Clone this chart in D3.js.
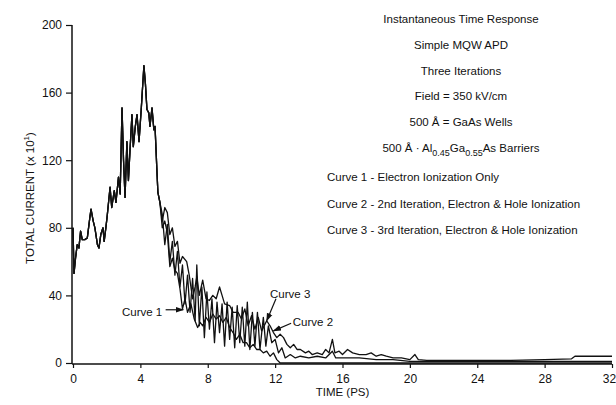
<!DOCTYPE html>
<html>
<head>
<meta charset="utf-8">
<script src="https://cdn.jsdelivr.net/npm/d3@7"></script>
<style>
  body { margin: 0; background: #fff; }
  svg text { font-family: "Liberation Sans", Arial, sans-serif; fill: #111; }
</style>
</head>
<body>
<div id="chart"></div>
<script>
// shared rise of all three curves (time in ps, current x10)
const sharedT = [0, 0.06, 0.15, 0.25, 0.35, 0.45, 0.55, 0.7, 0.85, 1.0, 1.07, 1.2, 1.3, 1.45, 1.54, 1.65, 1.78, 1.85, 1.95, 2.02,
  2.2, 2.3, 2.45, 2.55, 2.7, 2.8, 2.91, 3.0, 3.09, 3.2, 3.29, 3.38, 3.5, 3.58, 3.7, 3.8, 3.92, 4.05, 4.21, 4.3,
  4.39, 4.5, 4.57, 4.69, 4.8, 4.87, 4.99, 5.04, 5.16];
const sharedV = [80, 53, 62, 70, 68, 78, 73, 73, 74, 86, 91, 84, 80, 70, 68, 76, 80, 72, 80, 86,
  104, 92, 102, 95, 110, 100, 151, 120, 98, 131, 108, 125, 147, 128, 140, 147, 131, 150, 176, 165,
  150, 148, 140, 151, 138, 140, 112, 101, 95];

// curve 1 - electron ionization only
const curve1T = [5.16, 5.3, 5.45, 5.6, 5.75, 5.9, 6.05, 6.2, 6.35, 6.5, 6.65, 6.8, 7.0, 7.2, 7.4, 7.55, 7.7, 7.9, 8.1, 8.3,
  8.5, 8.7, 8.9, 9.1, 9.3, 9.5, 9.7, 9.9, 10.1, 10.3, 10.5, 10.7, 10.9, 11.1, 11.3, 11.5, 11.7, 11.9, 12.1, 12.3, 32];
const curve1V = [95, 80, 84, 77, 57, 62, 55, 53, 44, 32, 38, 30, 35, 26, 21, 24, 22, 27, 24, 29,
  26, 28, 24, 27, 21, 18, 14, 17, 12, 12, 9, 11, 8, 8, 6, 7, 4, 6, 2, 0, 0];

// curve 2 - 2nd iteration
const curve2T = [5.16, 5.3, 5.45, 5.6, 5.75, 5.9, 6.05, 6.2, 6.35, 6.5, 6.65, 6.8, 6.95, 7.1, 7.25, 7.35, 7.5, 7.65, 7.8, 7.95,
  8.1, 8.25, 8.4, 8.55, 8.7, 8.85, 9.0, 9.15, 9.3, 9.45, 9.6, 9.75, 9.9, 10.05, 10.2, 10.35, 10.5, 10.65, 10.8, 10.95,
  11.1, 11.3, 11.45, 11.6, 11.8, 12.0, 12.2, 12.4, 12.6, 12.9, 13.2, 13.5, 14, 14.5, 15, 15.4, 15.6, 16, 17, 18,
  19, 20, 22, 32];
const curve2V = [95, 88, 70, 82, 60, 72, 52, 66, 45, 58, 35, 52, 30, 50, 25, 58, 22, 45, 15, 42,
  20, 38, 12, 36, 18, 35, 10, 36, 14, 33, 9, 34, 12, 33, 10, 36, 8, 30, 10, 30,
  8, 27, 10, 22, 12, 14, 6, 9, 3, 5, 3, 4, 3, 4, 3, 7, 3, 3, 3, 2,
  2, 1, 1, 1];

// curve 3 - 3rd iteration
const curve3T = [5.16, 5.3, 5.45, 5.6, 5.75, 5.9, 6.05, 6.2, 6.35, 6.5, 6.75, 6.9, 7.1, 7.25, 7.35, 7.5, 7.7, 7.9, 8.1, 8.3,
  8.5, 8.7, 8.85, 9.0, 9.3, 9.5, 9.8, 10.0, 10.2, 10.4, 10.6, 10.8, 11.0, 11.2, 11.5, 11.7, 11.9, 12.1, 12.3, 12.5,
  12.7, 12.9, 13.1, 13.3, 13.5, 13.8, 14.0, 14.2, 14.5, 14.8, 15.0, 15.2, 15.4, 15.55, 15.8, 16.0, 16.3, 16.6, 17.0, 17.4,
  17.7, 18.0, 18.3, 18.6, 19.0, 19.5, 20.0, 20.3, 20.5, 21, 22, 24, 26, 28, 29.6, 29.8, 32];
const curve3V = [95, 84, 92, 89, 76, 80, 69, 72, 59, 63, 60, 52, 38, 45, 51, 40, 49, 38, 37, 40,
  38, 45, 40, 35, 34, 30, 30, 26, 32, 22, 28, 20, 27, 19, 25, 22, 18, 15, 17, 15,
  11, 9, 11, 8, 8, 6, 7, 5, 6, 5, 8, 6, 14, 6, 7, 5, 8, 6, 5, 5,
  6, 4, 5, 4, 3, 3, 2, 5, 2, 1.5, 1.5, 1.5, 1.5, 2, 2.5, 4, 4];

const xTicks = [0, 4, 8, 12, 16, 20, 24, 28, 32];
const yTicks = [0, 40, 80, 120, 160, 200];

const infoLines = ["Instantaneous Time Response", "Simple MQW APD", "Three Iterations", "Field = 350 kV/cm", "500 Å = GaAs Wells"];
const curveLines = ["Curve 1 - Electron Ionization Only",
  "Curve 2 - 2nd Iteration, Electron & Hole Ionization",
  "Curve 3 - 3rd Iteration, Electron & Hole Ionization"];

// annotation labels: text anchor and arrow from/to, in data units
const callouts = [
  { label: "Curve 1", tx: 5.3, tv: 30, anchor: "end", from: [5.5, 31.5], to: [6.55, 31.5] },
  { label: "Curve 3", tx: 11.7, tv: 41, anchor: "start", from: [12.05, 38], to: [11.5, 25] },
  { label: "Curve 2", tx: 13.05, tv: 24, anchor: "start", from: [12.95, 23.5], to: [11.9, 19] }
];

const width = 616, height = 405;
const svg = d3.select("#chart").append("svg")
  .attr("width", width)
  .attr("height", height);

const x = d3.scaleLinear().domain([0, 32]).range([73, 612]);
const y = d3.scaleLinear().domain([0, 200]).range([363, 25]);

// axes
const yAxis = svg.append("g")
  .attr("transform", `translate(${x(0) - 1},0)`)
  .call(d3.axisLeft(y).tickValues(yTicks).tickSize(6).tickPadding(4));
const xAxis = svg.append("g")
  .attr("transform", `translate(0,${y(0) + 1})`)
  .call(d3.axisBottom(x).tickValues(xTicks).tickSize(4).tickPadding(6));

[xAxis, yAxis].forEach(g => {
  g.select(".domain").attr("stroke", "#111").attr("stroke-width", 1.5);
  g.selectAll(".tick line").attr("stroke", "#111").attr("stroke-width", 1.2);
  g.selectAll(".tick text").attr("font-size", "12px").attr("fill", "#111")
    .style("font-family", "Liberation Sans, Arial, sans-serif");
});
// keep the last x label inside the page
xAxis.selectAll(".tick text").filter(d => d === 32).attr("dx", -3);
xAxis.select(".domain").attr("d", `M${x(0) - 1},0H${x(32)}`);
yAxis.select(".domain").attr("d", `M0,${y(200)}V${y(0) + 1}`);

// axis titles
svg.append("text")
  .attr("x", x(16))
  .attr("y", 396)
  .attr("text-anchor", "middle")
  .attr("font-size", "11.5px")
  .text("TIME (PS)");

const yTitle = svg.append("text")
  .attr("transform", `translate(34,${y(100) + 4}) rotate(-90)`)
  .attr("text-anchor", "middle")
  .attr("font-size", "11.5px");
yTitle.append("tspan").text("TOTAL CURRENT (x 10");
yTitle.append("tspan").attr("font-size", "8px").attr("dy", -5).text("1");
yTitle.append("tspan").attr("dy", 5).text(")");

// curves
const line = d3.line().x(d => x(d[0])).y(d => y(d[1]));
const build = (tArr, vArr) => sharedT.map((t, i) => [t, sharedV[i]])
  .concat(tArr.slice(1).map((t, i) => [t, vArr[i + 1]]));

[[curve1T, curve1V], [curve2T, curve2V], [curve3T, curve3V]].forEach(([tArr, vArr]) => {
  svg.append("path")
    .datum(build(tArr, vArr))
    .attr("fill", "none")
    .attr("stroke", "#111")
    .attr("stroke-width", 1.3)
    .attr("stroke-linejoin", "round")
    .attr("d", line);
});

// arrowhead
svg.append("defs").append("marker")
  .attr("id", "arrow")
  .attr("viewBox", "0 0 10 10")
  .attr("refX", 9).attr("refY", 5)
  .attr("markerWidth", 7).attr("markerHeight", 7)
  .attr("orient", "auto")
  .append("path")
  .attr("d", "M0,1.5L10,5L0,8.5z")
  .attr("fill", "#111");

callouts.forEach(c => {
  svg.append("text")
    .attr("x", x(c.tx))
    .attr("y", y(c.tv) + 4)
    .attr("text-anchor", c.anchor)
    .attr("font-size", "11.5px")
    .text(c.label);
  svg.append("line")
    .attr("x1", x(c.from[0])).attr("y1", y(c.from[1]))
    .attr("x2", x(c.to[0])).attr("y2", y(c.to[1]))
    .attr("stroke", "#111")
    .attr("stroke-width", 1.2)
    .attr("marker-end", "url(#arrow)");
});

// text block at upper right
const infoX = 461;
infoLines.forEach((s, i) => {
  svg.append("text")
    .attr("x", infoX)
    .attr("y", 23 + i * 25.8)
    .attr("text-anchor", "middle")
    .attr("font-size", "11.5px")
    .text(s);
});
const barrier = svg.append("text")
  .attr("x", infoX)
  .attr("y", 23 + 5 * 25.8)
  .attr("text-anchor", "middle")
  .attr("font-size", "11.5px");
barrier.append("tspan").text("500 Å · Al");
barrier.append("tspan").attr("font-size", "9px").attr("dy", 4).text("0.45");
barrier.append("tspan").attr("dy", -4).text("Ga");
barrier.append("tspan").attr("font-size", "9px").attr("dy", 4).text("0.55");
barrier.append("tspan").attr("dy", -4).text("As Barriers");

curveLines.forEach((s, i) => {
  svg.append("text")
    .attr("x", 327)
    .attr("y", 181 + i * 26.5)
    .attr("font-size", "11.5px")
    .text(s);
});
</script>
</body>
</html>
